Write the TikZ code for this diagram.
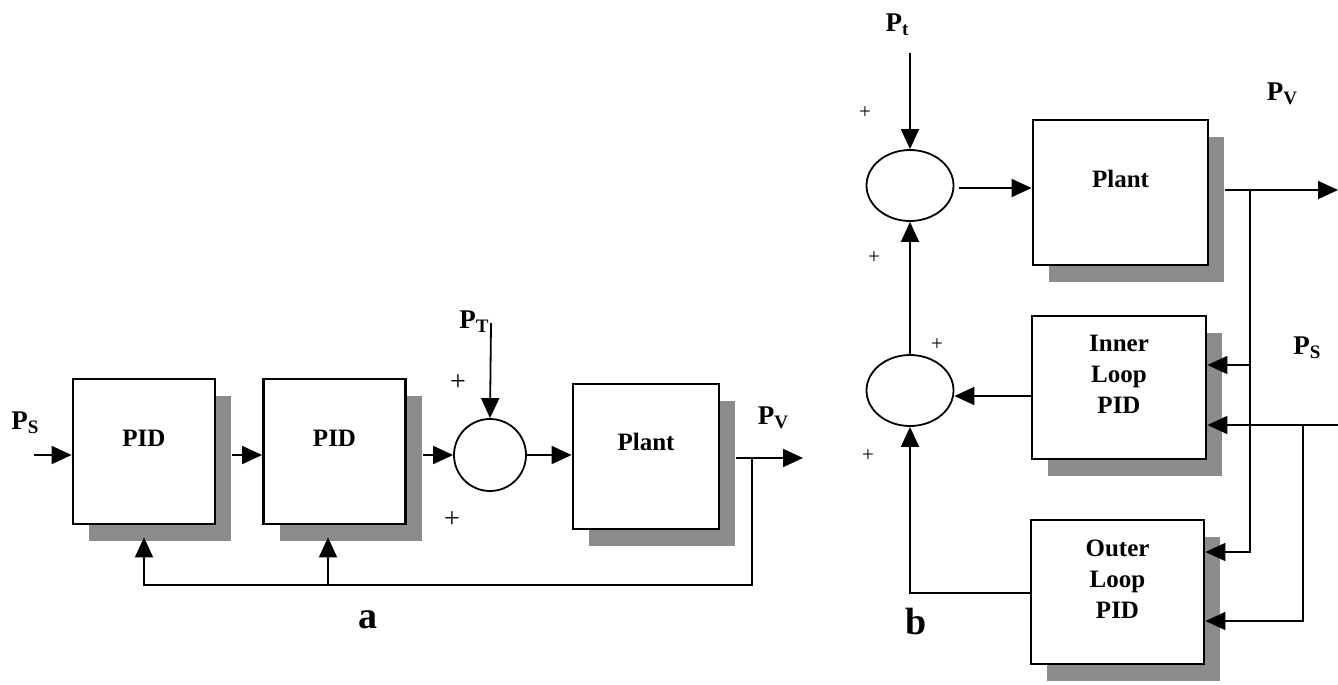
\documentclass[tikz,border=0pt]{standalone}
\usepackage{fontspec}
\setmainfont{Liberation Serif}
\usetikzlibrary{arrows.meta,shadows,shapes.geometric,calc}
\definecolor{shadowc}{gray}{0.55}
\newcommand{\Sig}[2]{#1\raisebox{-0.3ex}{\fontsize{9.5}{10}\selectfont #2}}
\begin{document}
\begin{tikzpicture}[x=0.5pt,y=-0.5pt,
  box/.style={draw, line width=1.4pt, fill=white, minimum width=71pt, minimum height=72.5pt, inner sep=0pt,
    drop shadow={shadow xshift=8pt, shadow yshift=-8.5pt, fill=shadowc, opacity=1}},
  lbl/.style={font=\fontsize{12.5}{15.5}\selectfont\bfseries, align=center, inner sep=0pt},
  sum/.style={circle, draw, line width=0.9pt, minimum size=36pt, inner sep=0pt},
  sumel/.style={ellipse, draw, line width=0.9pt, minimum width=43.5pt, minimum height=35.5pt, inner sep=0pt},
  conn/.style={line width=0.9pt},
  arr/.style={conn, -{Triangle[length=10pt,width=9pt]}},
  plus/.style={font=\fontsize{14}{15}\selectfont, inner sep=0pt},
  plusb/.style={font=\fontsize{10.5}{11}\selectfont, inner sep=0pt},
  sig/.style={font=\fontsize{13.5}{16}\selectfont\bfseries, inner sep=0pt},
  tag/.style={font=\fontsize{19}{22}\selectfont\bfseries, inner sep=0pt}]
\useasboundingbox (0,0) rectangle (1338,685);

% ---------------- (a) ----------------
\node[box, label={[lbl,yshift=6.5pt]center:PID}] (pid1) at (144,451.5) {};
\node[box, label={[lbl,yshift=6.5pt]center:PID}] (pid2) at (334.5,451.5) {};
\node[sum] (s1) at (490,455) {};
\node[box, minimum width=73pt, label={[lbl,yshift=7.25pt]center:Plant}] (plantA) at (646,456.5) {};

\node[sig] (psA) at (25,423) {\Sig{P}{S}};
\node[sig] (ptA) at (474,322) {\Sig{P}{T}};
\node[sig] (pvA) at (773,418) {\Sig{P}{V}};
\node[plus] (pa1) at (458,383) {+};
\node[plus] (pa2) at (452,520) {+};
\node[tag] (tagA) at (368,620) {a};

\coordinate (psinA) at (34,455);
\coordinate (ptinA) at (491,323);
\coordinate (pvoutA) at (803,458);
\coordinate (jA) at (752,458);
\coordinate (fbA) at (144,585);
\coordinate (fbA2) at (328,585);

\draw[arr] (psinA) -- (psinA -| pid1.west);
\draw[arr] ($(pid1.east)+(8pt,-1.75pt)$) -- ($(pid2.west)+(0,-1.75pt)$);
\draw[arr] ($(pid2.east)+(8pt,-1.75pt)$) -- (s1.west);
\draw[arr] (ptinA) -- (s1.north);
\draw[arr] (s1.east) -- (s1.east -| plantA.west);
\draw[arr] ($(plantA.east)+(8pt,-0.75pt)$) -- (pvoutA);
\draw[arr] (jA) |- (fbA) -- ($(pid1.south)+(0,-6pt)$);
\draw[arr] (fbA2) -- ($(pid2.south)+(-3.25pt,-6pt)$);

% ---------------- (b) ----------------
\node[sumel] (e1) at (910,185.5) {};
\node[sumel] (e2) at (910,390.5) {};
\node[box, minimum width=87.5pt, label={[lbl,yshift=6.75pt]center:Plant}] (plantB) at (1120.5,192.5) {};
\node[box, minimum width=87pt, minimum height=71.5pt, label={[lbl,yshift=6.75pt]center:Inner\\Loop\\PID}] (inner) at (1119,387.5) {};
\node[box, minimum width=86.5pt, minimum height=72pt, label={[lbl,yshift=6.5pt]center:Outer\\Loop\\PID}] (outer) at (1117.5,592) {};

\node[sig] (ptB) at (897,25) {\Sig{P}{t}};
\node[sig] (pvB) at (1282,94) {\Sig{P}{V}};
\node[sig] (psB) at (1307,348) {\Sig{P}{S}};
\node[plusb] (pb1) at (865,113) {+};
\node[plusb] (pb2) at (874,258) {+};
\node[plusb] (pb3) at (937,345) {+};
\node[plusb] (pb4) at (868,456) {+};
\node[tag] (tagB) at (916,621) {b};

\coordinate (ptinB) at (910,53);
\coordinate (pvoutB) at (1338,190);
\coordinate (jB) at (1250,190);
\coordinate (psinB) at (1338,425);
\coordinate (jB2) at (1303,425);

\draw[arr] (ptinB) -- (e1.north);
\draw[arr] ($(e1.east)+(2.5pt,-1.25pt)$) -- ($(plantB.west)+(0,2.25pt)$);
\draw[arr] ($(plantB.east)+(8pt,1.25pt)$) -- (pvoutB);
\draw[arr] (jB) |- ($(inner.east)+(0,11.25pt)$);
\draw[arr] (jB) |- ($(outer.east)+(0,20pt)$);
\draw[arr] (psinB) -- ($(inner.east)+(0,-18.75pt)$);
\draw[arr] (jB2) |- ($(outer.east)+(0,-14.5pt)$);
\draw[arr] ($(inner.west)+(0,-4.25pt)$) -- ($(e2.east)+(0,-2.75pt)$);
\draw[arr] (e2.north) -- (e1.south);
\draw[arr] ($(outer.west)+(0,-0.5pt)$) -| (e2.south);
\end{tikzpicture}
\end{document}
